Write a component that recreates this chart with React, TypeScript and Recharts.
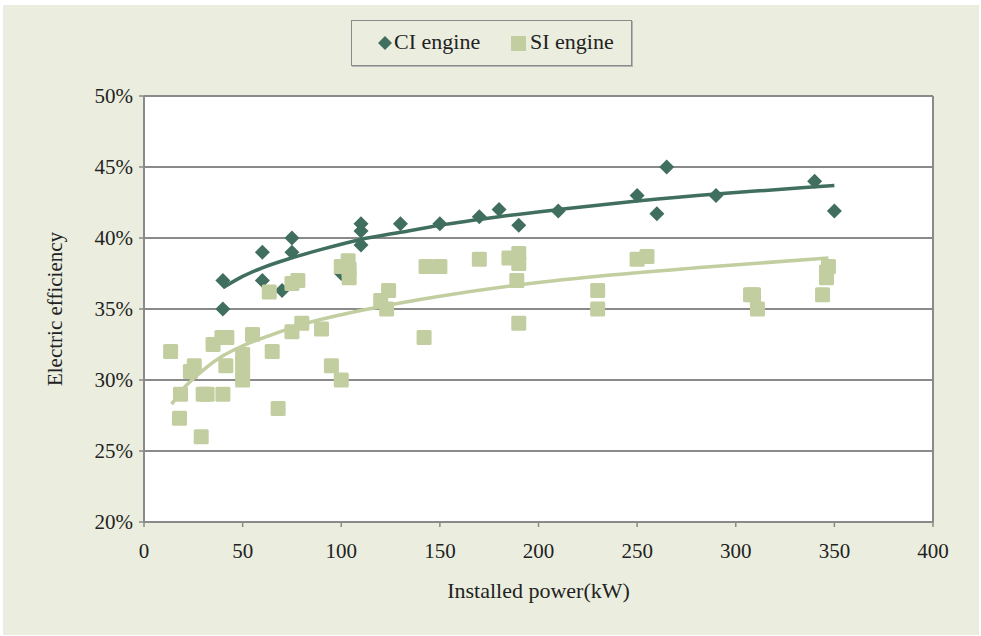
import { ScatterChart, Scatter, XAxis, YAxis, CartesianGrid, ReferenceLine } from 'recharts';

const xTicks = [0, 50, 100, 150, 200, 250, 300, 350, 400];
const yTicks = [20, 25, 30, 35, 40, 45, 50];

// CI engine measurements: [installed power kW, electric efficiency %]
const ciPoints: [number, number][] = [
  [40, 37], [40, 35], [60, 39], [60, 37], [70, 36.3], [75, 40], [75, 39], [100, 37.5],
  [110, 41], [110, 40.5], [110, 39.5], [130, 41], [150, 41], [170, 41.5], [180, 42],
  [190, 40.9], [210, 41.9], [250, 43], [260, 41.7], [265, 45], [290, 43], [340, 44], [350, 41.9]
];

// SI engine measurements
const siPoints: [number, number][] = [
  [13.5, 32], [18, 27.3], [18.5, 29], [23.5, 30.6], [25.5, 31], [29, 26], [30, 29], [32, 29],
  [35, 32.5], [39.5, 33], [42, 33], [40, 29], [41.5, 31], [50, 31.8], [50, 31.2], [50, 30.6],
  [50, 30], [55, 33.2], [63.5, 36.2], [65, 32], [68, 28], [75, 36.8], [78, 37], [75, 33.4],
  [80, 34], [90, 33.6], [95, 31], [100, 30], [100, 38], [103.5, 38.4], [104, 37.8], [104, 37.2],
  [120, 35.6], [124, 36.3], [123, 35], [142, 33], [143, 38], [150, 38], [170, 38.5], [185, 38.6],
  [190, 38.9], [190, 38.2], [189, 37], [190, 34], [230, 36.3], [230, 35], [250, 38.5], [255, 38.7],
  [307.5, 36], [309, 36], [311, 35], [344, 36], [346, 37.2], [346, 37.6], [347, 38]
];

// logarithmic trend lines
const ciTrend: [number, number][] = [
  [40, 36.5], [50, 37.3], [60, 37.9], [75, 38.6], [90, 39.2], [110, 39.9], [130, 40.4],
  [150, 40.9], [180, 41.5], [210, 42.0], [250, 42.6], [290, 43.1], [320, 43.4], [350, 43.7]
];
const siTrend: [number, number][] = [
  [14, 28.3], [20, 29.4], [30, 30.7], [40, 31.7], [50, 32.4], [65, 33.2], [80, 33.9],
  [100, 34.6], [125, 35.3], [150, 35.9], [190, 36.7], [230, 37.3], [280, 37.9], [347, 38.6]
];

const CI_COLOR = '#416f5f';
const SI_COLOR = '#c2cea0';
const BG = '#ebeedf';
const GRID = '#8a8a8a';
const FONT = 'Liberation Serif';

const toXY = (pairs: [number, number][]) => pairs.map(([x, y]) => ({ x, y }));

const Diamond = (props: any) => {
  const { cx, cy } = props;
  const r = 7.5;
  return <polygon points={`${cx},${cy - r} ${cx + r},${cy} ${cx},${cy + r} ${cx - r},${cy}`} fill={CI_COLOR} />;
};

const Square = (props: any) => {
  const { cx, cy } = props;
  return <rect x={cx - 7.5} y={cy - 7.5} width={15} height={15} rx={1.5} fill={SI_COLOR} />;
};

const NoDot = () => <g />;

const YTitle = (p: any) => {
  const vb = p.viewBox || {};
  const x = vb.x - 29;
  const y = vb.y + vb.height / 2;
  return (
    <text x={x} y={y} transform={`rotate(-90 ${x} ${y})`} textAnchor="middle" dominantBaseline="central" fill="#222" fontSize={21} fontFamily={FONT}>
      Electric efficiency
    </text>
  );
};

export default function App() {
  return (
    <div style={{ position: 'absolute', left: 0, top: 0, width: 981, height: 636, background: '#fff', fontFamily: FONT }}>
      <div style={{ position: 'absolute', left: 3, top: 5, width: 976, height: 630, background: BG }}>
        <ScatterChart width={976} height={630} margin={{ top: 91, right: 46, bottom: 33, left: 81 }} style={{ fontFamily: FONT }}>
          <CartesianGrid vertical={false} stroke={GRID} strokeWidth={2} fill="#fff" fillOpacity={1} />
          <XAxis
            type="number"
            dataKey="x"
            domain={[0, 400]}
            ticks={xTicks}
            interval={0}
            height={80}
            tickSize={5}
            tickMargin={16}
            axisLine={{ stroke: GRID, strokeWidth: 2 }}
            tickLine={{ stroke: GRID, strokeWidth: 1.5 }}
            tick={{ fill: '#222', fontSize: 21, fontFamily: FONT }}
            label={{ value: 'Installed power(kW)', position: 'insideBottom', offset: 4, fill: '#222', fontSize: 22, fontFamily: FONT }}
          />
          <YAxis
            type="number"
            dataKey="y"
            domain={[20, 50]}
            ticks={yTicks}
            interval={0}
            width={60}
            tickSize={5}
            tickMargin={6}
            tickFormatter={(v: number) => `${v}%`}
            axisLine={{ stroke: GRID, strokeWidth: 2 }}
            tickLine={{ stroke: GRID, strokeWidth: 1.5 }}
            tick={{ fill: '#222', fontSize: 21, fontFamily: FONT }}
            label={{ content: YTitle }}
          />
          <ReferenceLine x={400} stroke={GRID} strokeWidth={2} />
          <Scatter name="CI engine" data={toXY(ciPoints)} shape={Diamond} isAnimationActive={false} />
          <Scatter name="SI engine" data={toXY(siPoints)} shape={Square} isAnimationActive={false} />
          <Scatter data={toXY(ciTrend)} line={{ stroke: CI_COLOR, strokeWidth: 3.5 }} lineJointType="monotoneX" shape={NoDot} isAnimationActive={false} />
          <Scatter data={toXY(siTrend)} line={{ stroke: SI_COLOR, strokeWidth: 3.5 }} lineJointType="monotoneX" shape={NoDot} isAnimationActive={false} />
        </ScatterChart>
        <div style={{ position: 'absolute', left: 348, top: 15, width: 279, height: 44, border: '1.5px solid #8a8a8a', boxShadow: '1px 1px 0 #b5b5b5', fontSize: 22, color: '#222', fontFamily: FONT }}>
          <svg style={{ position: 'absolute', left: 26, top: 15 }} width={14} height={14}>
            <polygon points="7,0 14,7 7,14 0,7" fill={CI_COLOR} />
          </svg>
          <span style={{ position: 'absolute', left: 42, top: 9, lineHeight: '24px', whiteSpace: 'nowrap' }}>CI engine</span>
          <svg style={{ position: 'absolute', left: 159, top: 15 }} width={15} height={15}>
            <rect x={0} y={0} width={15} height={15} fill={SI_COLOR} />
          </svg>
          <span style={{ position: 'absolute', left: 178, top: 9, lineHeight: '24px', whiteSpace: 'nowrap' }}>SI engine</span>
        </div>
      </div>
    </div>
  );
}
